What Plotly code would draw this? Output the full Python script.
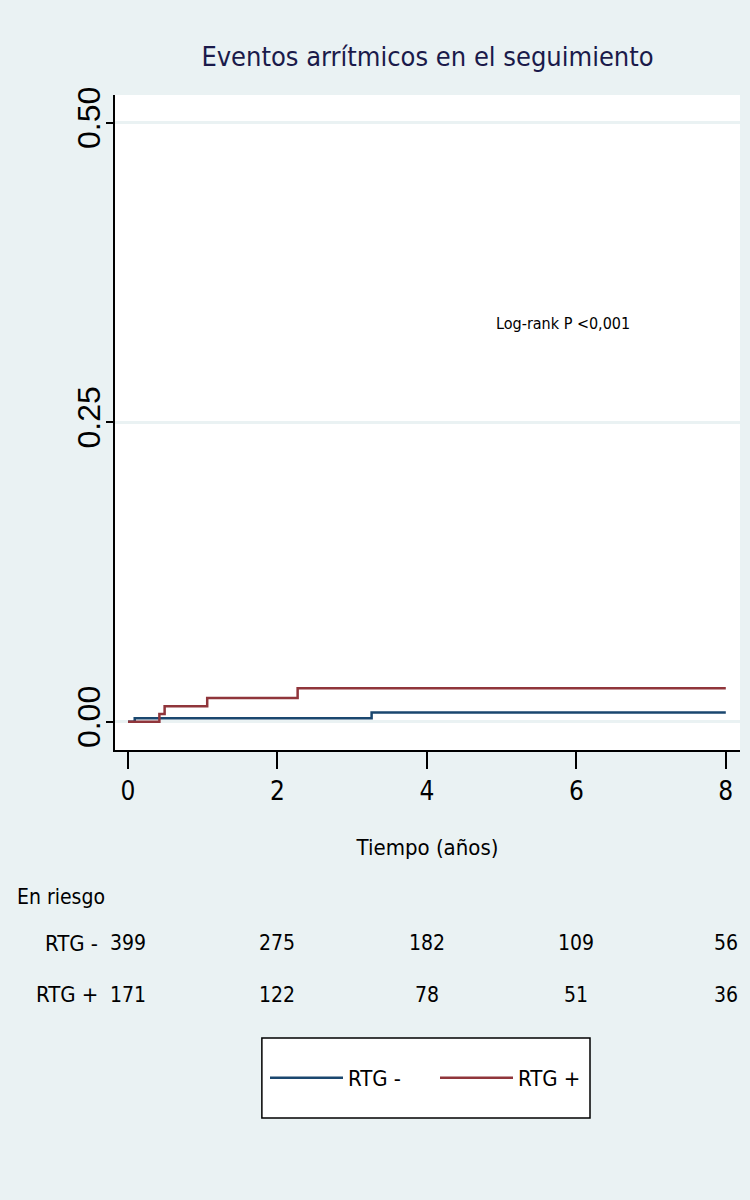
import plotly.graph_objects as go

# ---- data ----
t_neg = [0, 0.09, 3.26, 8]
f_neg = [0, 0.0028, 0.0078, 0.0078]
t_pos = [0, 0.42, 0.49, 1.06, 2.27, 8]
f_pos = [0, 0.0065, 0.013, 0.0198, 0.028, 0.028]

risk_times = [0, 2, 4, 6, 8]
risk_neg = [399, 275, 182, 109, 56]
risk_pos = [171, 122, 78, 51, 36]
group_names = ["RTG -", "RTG +"]
y_ticks = [0, 0.25, 0.5]
y_ticklabels = ["0.00", "0.25", "0.50"]
x_ticks = [0, 2, 4, 6, 8]

BLUE = "#1a476f"
RED = "#90353b"
BG = "#eaf2f3"
FONT = "DejaVu Sans Condensed, Liberation Sans, sans-serif"

fig = go.Figure()
fig.add_trace(go.Scatter(x=t_neg, y=f_neg, mode="lines", line=dict(color=BLUE, width=2.5, shape="hv"),
                         name=group_names[0]))
fig.add_trace(go.Scatter(x=t_pos, y=f_pos, mode="lines", line=dict(color=RED, width=2.5, shape="hv"),
                         name=group_names[1]))

ann = []
ann.append(dict(text="Log-rank P <0,001", x=5.82, y=0.332, xref="x", yref="y", showarrow=False,
                font=dict(size=16, color="black", family=FONT)))
ann.append(dict(text="En riesgo", x=-0.16, y=-0.2244, xref="paper", yref="paper", showarrow=False,
                xanchor="left", yanchor="middle", font=dict(size=21, color="black", family=FONT)))
row_y = [-0.2947, -0.374]
for name, vals, ry in zip(group_names, [risk_neg, risk_pos], row_y):
    ann.append(dict(text=name, x=-0.024, y=ry, xref="paper", yref="paper", showarrow=False,
                    xanchor="right", yanchor="middle", font=dict(size=22, color="black", family=FONT)))
    for t, v in zip(risk_times, vals):
        ann.append(dict(text=str(v), x=t, y=ry, xref="x", yref="paper", showarrow=False,
                        xanchor="center", yanchor="middle", font=dict(size=21, color="black", family=FONT)))

fig.update_layout(
    width=750, height=1200,
    paper_bgcolor=BG, plot_bgcolor="white",
    margin=dict(l=115, r=10, t=95, b=450),
    title=dict(text="Eventos arrítmicos en el seguimiento", x=0.5, xref="paper",
               y=1 - 57 / 1200, yref="container", yanchor="middle",
               font=dict(size=27, color="#1a1a4a", family=FONT)),
    showlegend=True,
    legend=dict(orientation="h", x=0.24, xanchor="left", y=-0.5008, yanchor="middle",
                bgcolor="rgba(0,0,0,0)", borderwidth=0, entrywidth=82, itemwidth=73,
                font=dict(size=22, color="black", family=FONT)),
    annotations=ann,
    shapes=[dict(type="rect", xref="paper", yref="paper", x0=0.235, x1=0.76, y0=-0.5618, y1=-0.4397,
                 fillcolor="white", line=dict(color="black", width=1.5), layer="below")],
)
fig.update_xaxes(range=[-0.174, 8.19], tickvals=x_ticks, ticks="outside", ticklen=17, tickwidth=1.5,
                 tickcolor="black", showline=True, linecolor="black", linewidth=1.5, showgrid=False,
                 zeroline=False, tickfont=dict(size=26, color="black", family=FONT),
                 title=dict(text="Tiempo (años)", font=dict(size=22, color="black", family=FONT), standoff=35))
fig.update_yaxes(range=[-0.0236, 0.5231], tickvals=y_ticks, ticktext=y_ticklabels, tickangle=-90,
                 ticks="outside", ticklen=7, tickwidth=1.5, tickcolor="black", showline=True,
                 linecolor="black", linewidth=1.5, showgrid=True, gridcolor=BG, gridwidth=2.5,
                 zeroline=False, ticklabelstandoff=-7,
                 tickfont=dict(size=32, color="black", family="Liberation Sans, Arial"))

fig.write_html("out.html", config={"displayModeBar": False},
               post_script="document.body.style.margin='0';document.body.style.overflow='hidden';")
